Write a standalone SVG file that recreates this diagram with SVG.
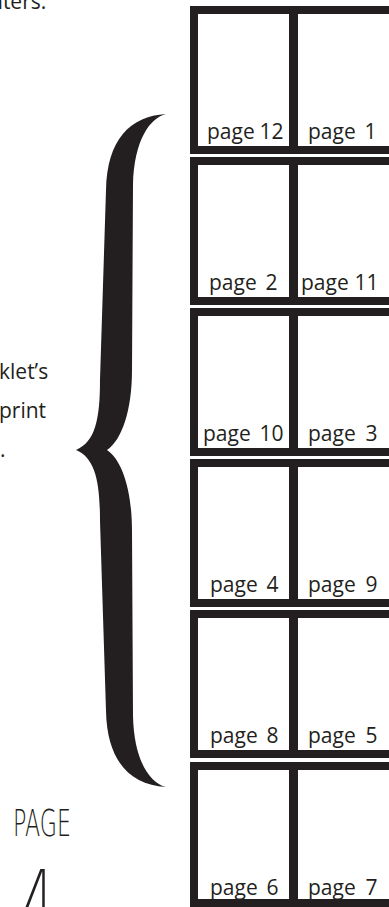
<svg xmlns="http://www.w3.org/2000/svg" width="389" height="907" viewBox="0 0 389 907">
<style>
.sheet{fill:none;stroke:#231f20;stroke-width:8}
.div{stroke:#231f20;stroke-width:9}
.lbl{font-family:"Open Sans","Noto Sans",sans-serif;font-size:21px;fill:#231f20}
.side{font-family:"Open Sans","Noto Sans",sans-serif;font-size:21px;fill:#231f20}
.cond{font-family:"DejaVu Sans","Liberation Sans",sans-serif;font-weight:200;fill:#231f20}
</style>
<rect width="389" height="907" fill="#ffffff"/>
<g id="side-text">
<text class="side" x="-10" y="9">nters.</text>
<text class="side" x="-1" y="379">klet’s</text>
<text class="side" x="-1" y="418">print</text>
<text class="side" x="0" y="457">.</text>
</g>
<g id="brace">
<path fill="#231f20" d="M166,114 C150,118 134,140 133,185 L132,370 C132,410 122,440 107,450 C122,460 132,490 132,531 L133,716 C134,761 150,783 166,787 C130,785 107,761 106,711 L100,521 C100,481 95,458 76,450 C95,442 100,420 100,380 L106,190 C107,140 130,116 166,114 Z"/>
</g>
<g id="page-number">
<text class="cond" x="13" y="836" font-size="38" textLength="58" lengthAdjust="spacingAndGlyphs">PAGE</text>
<text class="cond" x="22" y="930" font-size="84" textLength="32" lengthAdjust="spacingAndGlyphs">4</text>
</g>
<g id="sheet1">
<rect class="sheet" x="194" y="10" width="300" height="140"/>
<line class="div" x1="293.5" y1="6" x2="293.5" y2="154"/>
<text class="lbl" x="207" y="139">page <tspan x="259.5">12</tspan></text>
<text class="lbl" x="308" y="139">page <tspan x="364.5">1</tspan></text>
</g>
<g id="sheet2">
<rect class="sheet" x="194" y="161" width="300" height="140"/>
<line class="div" x1="293.5" y1="157" x2="293.5" y2="305"/>
<text class="lbl" x="209" y="290">page <tspan x="265.5">2</tspan></text>
<text class="lbl" x="301" y="290">page <tspan x="354.5">11</tspan></text>
</g>
<g id="sheet3">
<rect class="sheet" x="194" y="312" width="300" height="140"/>
<line class="div" x1="293.5" y1="308" x2="293.5" y2="456"/>
<text class="lbl" x="203" y="441">page <tspan x="259.5">10</tspan></text>
<text class="lbl" x="308" y="441">page <tspan x="365.5">3</tspan></text>
</g>
<g id="sheet4">
<rect class="sheet" x="194" y="463" width="300" height="140"/>
<line class="div" x1="293.5" y1="459" x2="293.5" y2="607"/>
<text class="lbl" x="210" y="592">page <tspan x="266.5">4</tspan></text>
<text class="lbl" x="308" y="592">page <tspan x="365.5">9</tspan></text>
</g>
<g id="sheet5">
<rect class="sheet" x="194" y="614" width="300" height="140"/>
<line class="div" x1="293.5" y1="610" x2="293.5" y2="758"/>
<text class="lbl" x="210" y="743">page <tspan x="266.5">8</tspan></text>
<text class="lbl" x="308" y="743">page <tspan x="365.5">5</tspan></text>
</g>
<g id="sheet6">
<rect class="sheet" x="194" y="766" width="300" height="137"/>
<line class="div" x1="293.5" y1="762" x2="293.5" y2="907"/>
<text class="lbl" x="210" y="895">page <tspan x="266.5">6</tspan></text>
<text class="lbl" x="308" y="895">page <tspan x="365.5">7</tspan></text>
</g>
</svg>
